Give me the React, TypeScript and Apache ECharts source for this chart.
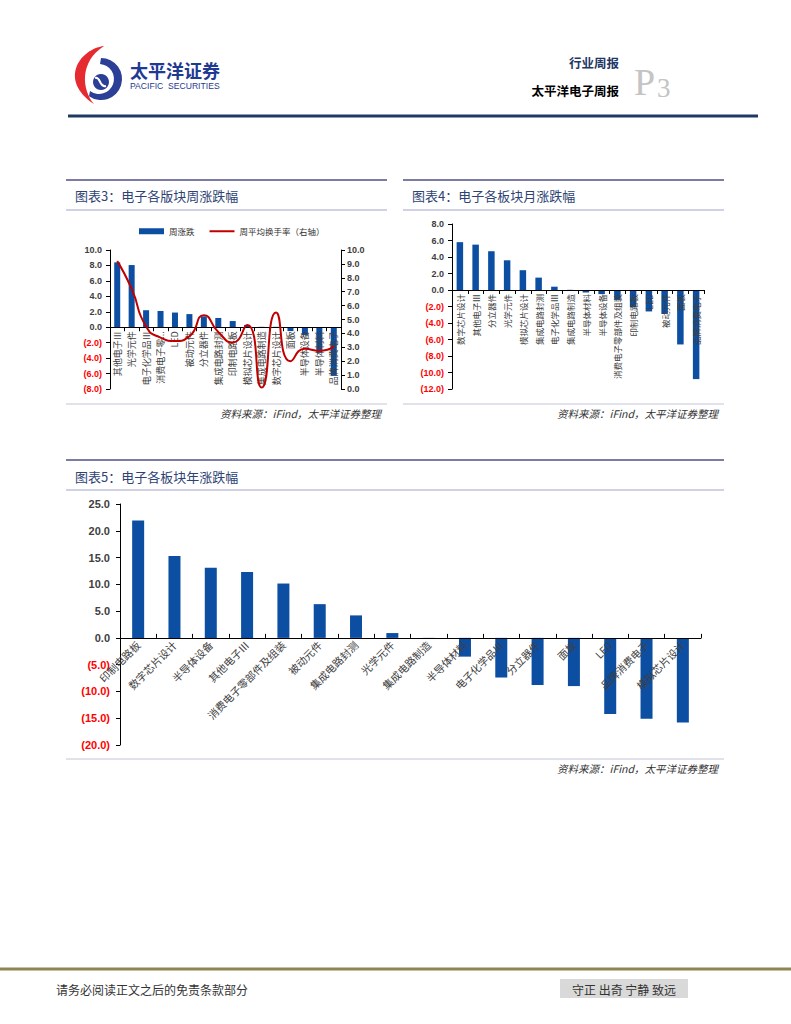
import React, { useEffect, useRef } from 'react';
import * as echarts from 'echarts';

// ---------- DATA ----------
const weekCats = ['其他电子Ⅲ', '光学元件', '电子化学品Ⅲ', '消费电子零部件及组装', 'LED', '被动元件', '分立器件', '集成电路封测', '印制电路板', '模拟芯片设计', '集成电路制造', '数字芯片设计', '面板', '半导体设备', '半导体材料', '品牌消费电子'];
const weekChange = [8.4, 8.05, 2.2, 2.1, 1.9, 1.7, 1.4, 1.2, 0.8, 0.3, 0.05, 0.05, -0.5, -1.0, -3.3, -6.3];
const weekTurnover = [9.2, 7.2, 4.5, 3.7, 3.45, 3.8, 5.3, 4.1, 3.35, 4.6, 0.1, 5.5, 2.0, 2.9, 2.75, 3.05];

const monthCats = ['数字芯片设计', '其他电子Ⅲ', '分立器件', '光学元件', '模拟芯片设计', '集成电路封测', '电子化学品Ⅲ', '集成电路制造', '半导体材料', '半导体设备', '消费电子零部件及组装', '印制电路板', 'LED', '被动元件', '面板', '品牌消费电子'];
const monthChange = [5.8, 5.5, 4.7, 3.6, 2.4, 1.5, 0.4, 0.02, -0.3, -0.5, -1.2, -2.1, -2.6, -2.9, -6.6, -10.8];

const yearCats = ['印制电路板', '数字芯片设计', '半导体设备', '其他电子Ⅲ', '消费电子零部件及组装', '被动元件', '集成电路封测', '光学元件', '集成电路制造', '半导体材料', '电子化学品Ⅲ', '分立器件', '面板', 'LED', '品牌消费电子', '模拟芯片设计'];
const yearChange = [21.9, 15.3, 13.1, 12.3, 10.15, 6.3, 4.2, 0.9, 0.02, -3.5, -7.4, -8.8, -9.0, -14.2, -15.1, -15.8];

const weekTicksLeft = { min: -8, max: 10, interval: 2 };
const weekTicksRight = { min: 0, max: 10, interval: 1 };
const monthTicks = { min: -12, max: 8, interval: 2 };
const yearTicks = { min: -20, max: 25, interval: 5 };

// ---------- STYLE ----------
const CJK = '"Noto Sans CJK SC", "Noto Sans", sans-serif';
const NUM = '"Liberation Sans", Arial, sans-serif';
const BLUE = '#0b4ea2';
const RED_LINE = '#c00000';
const TITLE_C = '#2e4374';

echarts.graphic.registerShape(
  'redCrescent',
  echarts.graphic.extendPath('M104 46 C 80 49, 58 80, 94 104 C 82 90, 79 62, 104 46 Z', {})
);
echarts.graphic.registerShape(
  'blueCrescent',
  echarts.graphic.extendPath('M101 58 A21 21 0 1 1 89 96.2 L 90 91 A 15 15 0 1 0 100 64 Z', {})
);

const numLabel = (size: number) => ({
  fontFamily: NUM,
  fontWeight: 'bold' as const,
  fontSize: size,
  formatter: (v: number) => (v < 0 ? `{n|(${Math.abs(v).toFixed(1)})}` : `{p|${v.toFixed(1)}}`),
  rich: {
    n: { color: '#ff0000', fontFamily: NUM, fontWeight: 'bold', fontSize: size },
    p: { color: '#404040', fontFamily: NUM, fontWeight: 'bold', fontSize: size },
  },
});

const panel = (x1: number, x2: number, yTop: number, yLine: number, yBottom: number, title: string, titleY: number, srcY: number) => [
  { type: 'line', shape: { x1, y1: yTop, x2, y2: yTop }, style: { stroke: '#4f4f86', lineWidth: 1.5 } },
  { type: 'line', shape: { x1, y1: yLine, x2, y2: yLine }, style: { stroke: '#a3a3cc', lineWidth: 1 } },
  { type: 'line', shape: { x1, y1: yBottom, x2, y2: yBottom }, style: { stroke: '#c4c4dc', lineWidth: 1 } },
  {
    type: 'text', x: x1 + 9, y: titleY,
    style: { text: title, fill: TITLE_C, fontSize: 13, fontFamily: CJK, textVerticalAlign: 'middle' },
  },
  {
    type: 'text', x: x2 - 6, y: srcY,
    style: { text: '资料来源：iFind，太平洋证券整理', fill: '#333', fontSize: 10.5, fontStyle: 'italic', fontFamily: CJK, textAlign: 'right', textVerticalAlign: 'middle' },
  },
];

// plot areas (main grids) and the zero line of each value axis
const plots = [
  { left: 110, top: 250, width: 231, height: 139, ...weekTicksLeft },
  { left: 452, top: 224, width: 252, height: 165, ...monthTicks },
  { left: 120, top: 504, width: 581, height: 241, ...yearTicks },
];
const zeroGrid = (p: typeof plots[number]) => ({
  left: p.left, top: p.top, width: p.width,
  height: (p.height * p.max) / (p.max - p.min),
});

export default function App() {
  const ref = useRef<HTMLDivElement>(null);

  useEffect(() => {
    if (!ref.current) return;
    const chart = echarts.init(ref.current, null, { renderer: 'svg' });

    const hiddenCat = (gridIndex: number, data: string[]) => ({
      type: 'category' as const, gridIndex, data, show: false,
    });
    const labelCat = (gridIndex: number, data: string[], axisLabel: any, tickInside = false) => ({
      type: 'category' as const, gridIndex, data, z: 3,
      axisLine: { show: true, onZero: false, lineStyle: { color: '#000', width: 1 } },
      axisTick: { show: true, length: 4, inside: tickInside, lineStyle: { color: '#000' } },
      splitLine: { show: false },
      axisLabel: { interval: 0, color: '#404040', fontFamily: CJK, ...axisLabel },
    });
    const valAxisBase = {
      type: 'value' as const,
      axisLine: { show: true, lineStyle: { color: '#000', width: 1 } },
      axisTick: { show: true, length: 4, lineStyle: { color: '#000' } },
      splitLine: { show: false },
    };
    const hiddenVal = (gridIndex: number) => ({ type: 'value' as const, gridIndex, show: false, min: 0, max: 1 });

    const option: any = {
      animation: false,
      backgroundColor: '#fff',
      legend: {
        data: [
          { name: '周涨跌', icon: 'rect' },
          { name: '周平均换手率（右轴）', icon: 'path://M0 0 H50 V4 H0 Z', symbolKeepAspect: true },
        ],
        left: 134, top: 222, itemWidth: 25, itemHeight: 6, itemGap: 15,
        textStyle: { fontSize: 8.5, color: '#333', fontFamily: CJK },
      },
      grid: [
        ...plots.map((p) => ({ left: p.left, top: p.top, width: p.width, height: p.height })),
        ...plots.map(zeroGrid),
      ],
      xAxis: [
        hiddenCat(0, weekCats),
        hiddenCat(1, monthCats),
        hiddenCat(2, yearCats),
        labelCat(3, weekCats, {
          rotate: 90, margin: 4, fontSize: 9,
          formatter: (v: string) => (v.length > 8 ? v.slice(0, 5) + '...' : v),
        }),
        labelCat(4, monthCats, { rotate: 90, margin: 4, fontSize: 8.5 }),
        labelCat(5, yearCats, { rotate: 45, margin: 5, fontSize: 10.5 }, true),
      ],
      yAxis: [
        { ...valAxisBase, gridIndex: 0, ...weekTicksLeft, axisLabel: { ...numLabel(9), margin: 8 } },
        { ...valAxisBase, gridIndex: 0, position: 'right', ...weekTicksRight, axisLabel: { ...numLabel(9), margin: 6 } },
        { ...valAxisBase, gridIndex: 1, ...monthTicks, axisLabel: { ...numLabel(9), margin: 8 } },
        { ...valAxisBase, gridIndex: 2, ...yearTicks, axisLabel: { ...numLabel(11), margin: 10 } },
        hiddenVal(3),
        hiddenVal(4),
        hiddenVal(5),
      ],
      series: [
        { type: 'bar', name: '周涨跌', xAxisIndex: 0, yAxisIndex: 0, data: weekChange, barWidth: 6, itemStyle: { color: BLUE } },
        {
          type: 'line', name: '周平均换手率（右轴）', xAxisIndex: 0, yAxisIndex: 1, data: weekTurnover,
          smooth: 0.6, symbol: 'none', z: 5,
          lineStyle: { color: RED_LINE, width: 2 }, itemStyle: { color: RED_LINE },
        },
        { type: 'bar', name: '月涨跌', xAxisIndex: 1, yAxisIndex: 2, data: monthChange, barWidth: 6.5, itemStyle: { color: BLUE } },
        { type: 'bar', name: '年涨跌', xAxisIndex: 2, yAxisIndex: 3, data: yearChange, barWidth: 12, itemStyle: { color: BLUE } },
      ],
      graphic: [
        // logo
        { type: 'redCrescent', x: 0, y: 0, style: { fill: '#e52a30' } },
        { type: 'blueCrescent', x: 0, y: 0, style: { fill: '#2b3f96' } },
        { type: 'circle', shape: { cx: 101, cy: 82, r: 8 }, style: { fill: '#2b3f96' } },
        { type: 'bezierCurve', shape: { x1: 95, y1: 78, cpx1: 101, cpy1: 76, x2: 106, y2: 86, cpx2: 99, cpy2: 88 }, style: { stroke: '#fff', lineWidth: 2, fill: null } },
        { type: 'text', x: 130, y: 70, style: { text: '太平洋证券', fill: '#1f3a93', fontSize: 18, fontWeight: 'bold', fontFamily: CJK, textVerticalAlign: 'middle' } },
        { type: 'text', x: 130, y: 86, style: { text: 'PACIFIC  SECURITIES', fill: '#1f3a93', fontSize: 8.6, fontFamily: NUM, textVerticalAlign: 'middle' } },
        { type: 'text', x: 619, y: 62, style: { text: '行业周报', fill: '#1f3864', fontSize: 12.5, fontWeight: 'bold', fontFamily: CJK, textAlign: 'right', textVerticalAlign: 'middle' } },
        { type: 'text', x: 619, y: 90, style: { text: '太平洋电子周报', fill: '#000', fontSize: 12.5, fontWeight: 'bold', fontFamily: CJK, textAlign: 'right', textVerticalAlign: 'middle' } },
        { type: 'text', x: 634, y: 101, style: { text: 'P', fill: '#c4c4c4', fontSize: 38, fontFamily: '"Liberation Serif", serif', textVerticalAlign: 'bottom' } },
        { type: 'text', x: 657, y: 101, style: { text: '3', fill: '#c4c4c4', fontSize: 27, fontFamily: '"Liberation Serif", serif', textVerticalAlign: 'bottom' } },
        { type: 'line', shape: { x1: 68, y1: 116, x2: 758, y2: 116 }, style: { stroke: '#1f3864', lineWidth: 3 } },
        // panels
        ...panel(66, 387, 180, 210, 404, '图表3：电子各版块周涨跌幅', 195, 413),
        ...panel(403, 724, 180, 210, 404, '图表4：电子各板块月涨跌幅', 195, 413),
        ...panel(66, 724, 460, 490, 759, '图表5：电子各板块年涨跌幅', 476, 768),
        // footer
        { type: 'line', shape: { x1: 0, y1: 969, x2: 791, y2: 969 }, style: { stroke: '#8f8452', lineWidth: 3 } },
        { type: 'text', x: 56, y: 989, style: { text: '请务必阅读正文之后的免责条款部分', fill: '#333', fontSize: 12, fontFamily: CJK, textVerticalAlign: 'middle' } },
        { type: 'rect', shape: { x: 560, y: 979, width: 128, height: 19 }, style: { fill: '#d9d9d9' } },
        { type: 'text', x: 624, y: 989, style: { text: '守正 出奇 宁静 致远', fill: '#333', fontSize: 12, fontFamily: CJK, textAlign: 'center', textVerticalAlign: 'middle' } },
      ],
    };

    chart.setOption(option);
    return () => chart.dispose();
  }, []);

  return (
    <div
      ref={ref}
      style={{ position: 'absolute', left: 0, top: 0, width: 791, height: 1024, background: '#fff' }}
    />
  );
}
